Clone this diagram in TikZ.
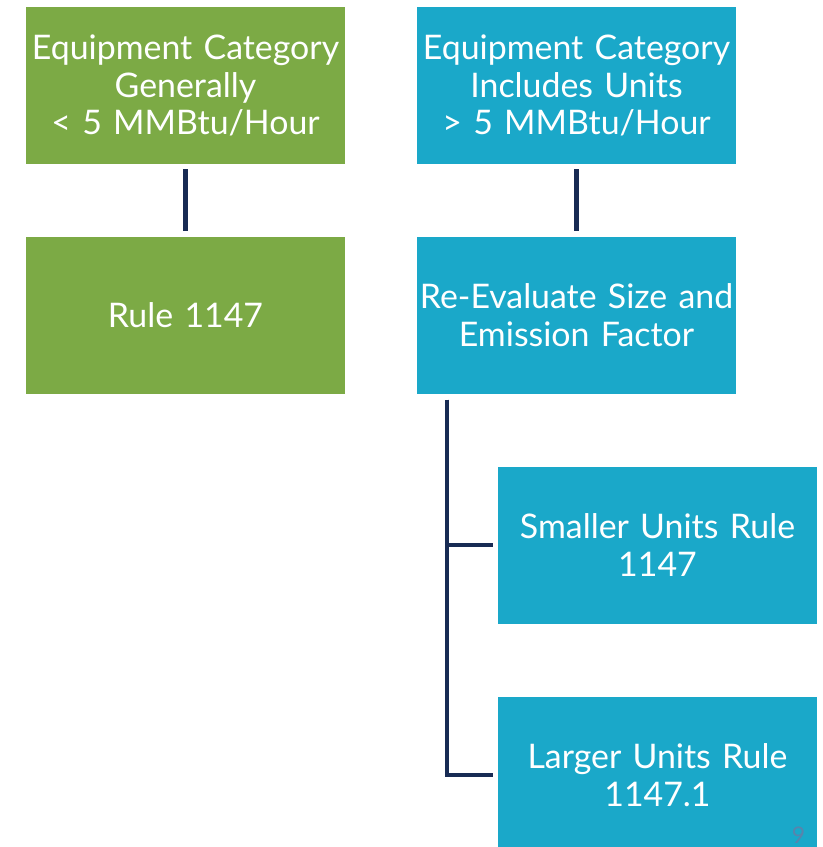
\documentclass[tikz,border=0pt]{standalone}
\usepackage{fontspec}
\setmainfont{Lato}
\usetikzlibrary{positioning}
\definecolor{chartgreen}{RGB}{124,170,69}
\definecolor{chartblue}{RGB}{26,168,201}
\definecolor{chartnavy}{RGB}{24,43,84}
\definecolor{pagegray}{RGB}{88,132,172}

\tikzset{
    stepbox/.style={minimum width=319bp, minimum height=157bp, inner sep=0pt,
          text width=316bp, align=center, text=white,
          font=\fontsize{34}{38}\selectfont},
    greenbox/.style={stepbox, fill=chartgreen},
    bluebox/.style={stepbox, fill=chartblue},
    link/.style={draw=chartnavy, line width=4.5bp}
}

\begin{document}
\begin{tikzpicture}[x=1bp, y=-1bp]
    \useasboundingbox (0,0) rectangle (823,847);
    % top row
    \node[greenbox] (gtop) at (185.5,85.5) {Equipment Category\\Generally\\< 5 MMBtu/Hour};
    \node[bluebox] (btop) at (576.5,85.5) {Equipment Category\\Includes Units\\> 5 MMBtu/Hour};
    % second row
    \node[greenbox] (grule) at (185.5,315) {Rule 1147};
    \node[bluebox] (bsize) at (576.5,315) {Re-Evaluate Size and\\Emission Factor};
    % sub units
    \node[bluebox] (bsmall) at (657.5,545) {Smaller Units Rule\\1147};
    \node[bluebox] (blarge) at (657.5,775) {Larger Units Rule\\1147.1};
    \node[text=pagegray, inner sep=0pt, anchor=base,
          font=\fontsize{23}{23}\selectfont] (pagenum) at (798.5,843) {9};

    \draw[link, shorten <=5bp, shorten >=5bp] (gtop) -- (grule);
    \draw[link, shorten <=5bp, shorten >=5bp] (btop) -- (bsize);
    \coordinate (trunk) at ([xshift=30bp, yshift=-6bp]bsize.south west);
    \draw[link, shorten >=5bp] (trunk) |- (bsmall.west);
    \draw[link, shorten >=5bp] (trunk) |- (blarge.west);
\end{tikzpicture}
\end{document}
